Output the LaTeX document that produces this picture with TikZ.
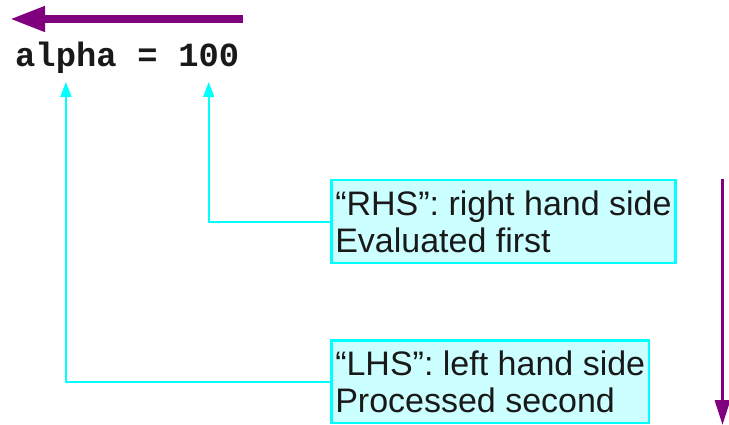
\documentclass[tikz,border=0pt]{standalone}
\usepackage{fontspec}
\setmainfont{Liberation Sans}
\setmonofont{Liberation Mono}
\usepackage{tikz}
\usetikzlibrary{arrows.meta, positioning}

\definecolor{flowpurple}{HTML}{800080}
\definecolor{linkcyan}{HTML}{00FFFF}
\definecolor{boxfill}{HTML}{CCFFFF}

\begin{document}
\begin{tikzpicture}[x=1pt, y=-1pt,
    box/.style={draw=linkcyan, fill=boxfill, line width=2.5pt, align=left, anchor=north west,
      inner xsep=4pt, inner ysep=10.5pt, text=black!90, font=\fontsize{34}{37}\selectfont},
    link/.style={draw=linkcyan, line width=1.8pt, -{Triangle[length=15pt,width=11pt]}},
    code/.style={inner sep=0pt, text=black!90, font=\ttfamily\bfseries\fontsize{33.8}{40}\selectfont},
    flow/.style={draw=flowpurple}]
  \useasboundingbox (0,0) rectangle (729,425);

  % istruzione di assegnamento
  \node[code, anchor=base west] (var) at (15,67) {alpha};
  \node[code, base right=20.28pt of var] (eq) {=};
  \node[code, base right=20.28pt of eq] (val) {100};

  % riquadri con le spiegazioni
  \node[box] (rhs) at (330,179) {“RHS”: right hand side\\Evaluated first};
  \node[box] (lhs) at (330,339) {“LHS”: left hand side\\Processed second};

  % collegamenti riquadro -> parte dell'istruzione
  \draw[link] (rhs.west) -| ([yshift=-15pt]val.base);
  \draw[link] (lhs.west) -| ([yshift=-15pt]var.base);

  % frecce di direzione
  \coordinate (topstart) at (243,19);
  \coordinate (topend) at (10,19);
  \draw[flow, line width=7.5pt, -{Triangle[length=35pt,width=24pt]}] (topstart) -- (topend);
  \coordinate (sidestart) at (722.5,179);
  \coordinate (sideend) at (722.5,425);
  \draw[flow, line width=3.3pt, -{Triangle[length=25pt,width=15pt]}] (sidestart) -- (sideend);
\end{tikzpicture}
\end{document}
